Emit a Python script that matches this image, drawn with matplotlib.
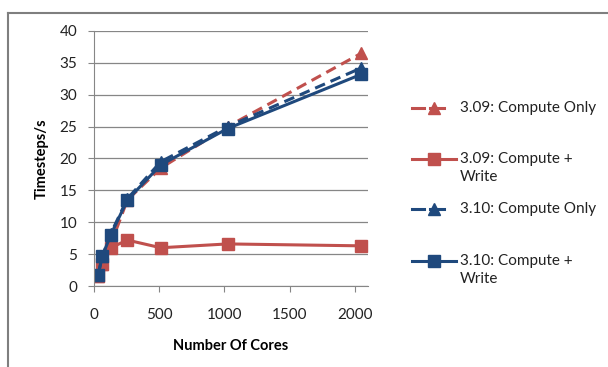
import matplotlib.pyplot as plt
from matplotlib.lines import Line2D

plt.rcParams['font.family'] = ['Lato', 'DejaVu Sans']

# Dados
cores = [32, 64, 128, 256, 512, 1024, 2048]
v309_compute = [1.5, 3.5, 6.5, 13.5, 18.5, 25.0, 36.5]
v309_write = [1.5, 3.5, 6.0, 7.2, 6.0, 6.6, 6.3]
v310_compute = [1.8, 4.7, 8.2, 13.7, 19.5, 25.0, 34.2]
v310_write = [1.8, 4.7, 8.0, 13.5, 19.0, 24.7, 33.2]

labels = ['3.09: Compute Only', '3.09: Compute +\nWrite',
          '3.10: Compute Only', '3.10: Compute +\nWrite']

red = '#C0504D'
blue = '#1F497D'
dash = (0, (3.5, 2))

W, H = 608, 367
fig = plt.figure(figsize=(W / 100, H / 100), dpi=100)
ax = fig.add_axes([94 / W, 1 - 286 / H, 274 / W, 255 / H])

series = [
    (v309_compute, red, dash, '^'),
    (v309_write, red, '-', 's'),
    (v310_compute, blue, dash, '^'),
    (v310_write, blue, '-', 's'),
]
for (vals, c, ls, m), lab in zip(series, labels):
    ax.plot(cores, vals, color=c, ls=ls, lw=2.2, marker=m, ms=9, label=lab)

ax.set_xlim(0, 2100)
ax.set_ylim(0, 40)
ax.set_xticks([0, 500, 1000, 1500, 2000])
ax.set_yticks(range(0, 41, 5))
ax.yaxis.grid(True, color='#868686', lw=0.9)
ax.set_axisbelow(True)
for s in ['top', 'right']:
    ax.spines[s].set_visible(False)
for s in ['left', 'bottom']:
    ax.spines[s].set_color('#868686')
ax.tick_params(colors='#868686', labelcolor='#222222', labelsize=11, length=4)
ax.tick_params(axis='x', pad=12)
ax.tick_params(axis='y', pad=8)

ax.set_xlabel('Number Of Cores', fontsize=10.5, fontweight='bold', labelpad=12)
ax.set_ylabel('Timesteps/s', fontsize=10.5, fontweight='bold', labelpad=8)

# Leyenda a la derecha
rows = [108, 159, 209, 261]
for (vals, c, ls, m), lab, y in zip(series, labels, rows):
    yf = 1 - y / H
    if ls == '-':
        fig.add_artist(Line2D([412 / W, 456 / W], [yf, yf], color=c, lw=2.2))
        fig.add_artist(Line2D([434 / W], [yf], color=c, marker=m, ms=9))
    else:
        fig.add_artist(Line2D([412 / W, 424 / W], [yf, yf], color=c, lw=2.2))
        fig.add_artist(Line2D([430 / W, 444 / W], [yf, yf], color=c, lw=2.2))
        fig.add_artist(Line2D([434 / W], [yf], color=c, marker=m, ms=9))
    fig.text(460 / W, yf + 7 / H, lab, fontsize=11, va='top', ha='left',
             color='#222222', linespacing=1.35)

# Marco
fig.add_artist(Line2D([8 / W, 8 / W], [0, 1 - 13 / H], color='#7f7f7f', lw=1.5))
fig.add_artist(Line2D([8 / W, 1], [1 - 13 / H, 1 - 13 / H], color='#7f7f7f', lw=1.5))

fig.savefig('out.png', dpi=100)
